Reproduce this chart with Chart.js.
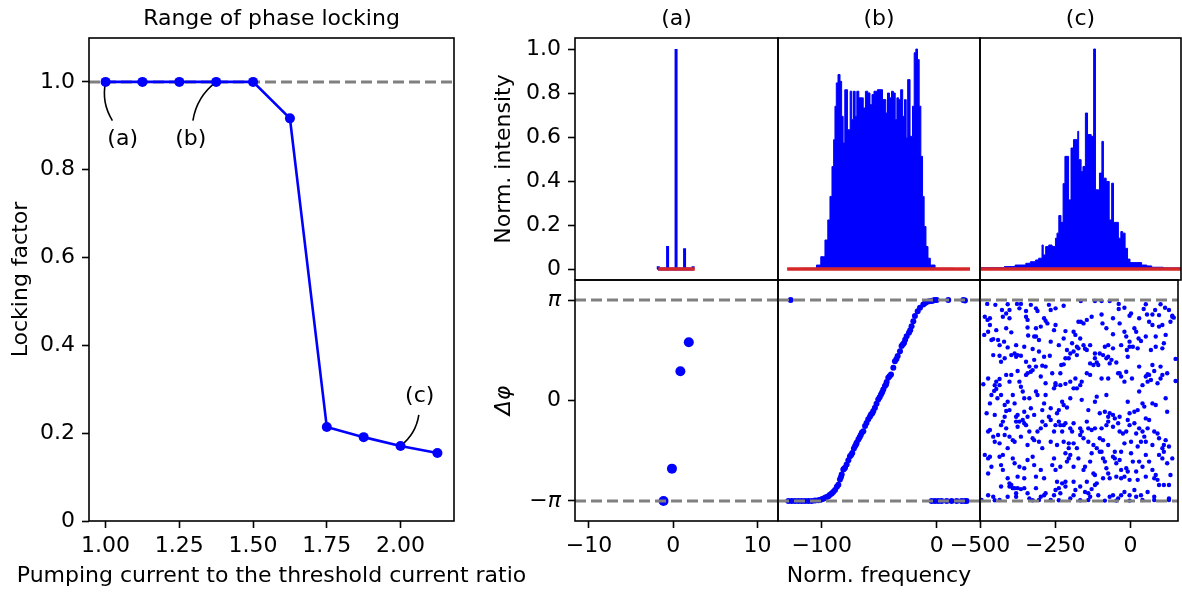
<!DOCTYPE html>
<html><head><meta charset="utf-8">
<script src="https://cdn.jsdelivr.net/npm/chart.js@4.4.0/dist/chart.umd.min.js"></script>
<style>
html,body{margin:0;padding:0;background:#fff;}
#wrap{position:relative;width:1182px;height:592px;overflow:hidden;background:#fff;}
canvas{position:absolute;left:0;top:0;}
</style></head><body><div id="wrap">
<canvas id="cL" width="1182" height="592"></canvas>
<canvas id="cTA" width="1182" height="592"></canvas>
<canvas id="cTB" width="1182" height="592"></canvas>
<canvas id="cTC" width="1182" height="592"></canvas>
<canvas id="cBA" width="1182" height="592"></canvas>
<canvas id="cBB" width="1182" height="592"></canvas>
<canvas id="cBC" width="1182" height="592"></canvas>
</div>
<script>
// ================= DATA =================
// Left panel: locking factor vs pumping ratio
const lockX = [1.0, 1.125, 1.25, 1.375, 1.5, 1.625, 1.75, 1.875, 2.0, 2.125];
const lockY = [1.0, 1.0, 1.0, 1.0, 1.0, 0.917, 0.214, 0.191, 0.171, 0.155];
const lockXTicks = [1.0, 1.25, 1.5, 1.75, 2.0];
const lockXTickLabels = ['1.00', '1.25', '1.50', '1.75', '2.00'];
const lockYTicks = [0, 0.2, 0.4, 0.6, 0.8, 1.0];
const lockYTickLabels = ['0', '0.2', '0.4', '0.6', '0.8', '1.0'];
const lockXTitle = 'Pumping current to the threshold current ratio';
const lockRef = 1.0;
const annotLabels = ['(a)', '(b)', '(c)'];
const annotPointIdx = [0, 3, 8];
const annotTextX = [1.058, 1.289, 2.065];
const annotTextY = [0.870, 0.870, 0.285];
const annotTailX = [1.023, 1.296, 2.062];
const annotTailY = [0.912, 0.912, 0.2415];

// Top row: normalized spectra
const panelTitles = ['(a)', '(b)', '(c)'];
const intTicks = [0, 0.2, 0.4, 0.6, 0.8, 1.0];
const intTickLabels = ['0', '0.2', '0.4', '0.6', '0.8', '1.0'];
const specAx = [-2.1, -1, 0, 1, 2.0];
const specAy = [0.012, 0.105, 1.0, 0.094, 0.012];
const redA = [-2.1, 2.2];
const specBx = [-130, -106, -103, -98.6, -95.7, -93.7, -91.9, -90.2, -89, -87.9, -86.7, -84.9, -83.2, -82.1, -80.6, -79.2, -76, -74.5, -73.1, -71.6, -70.2, -68.7, -66.7, -64.7, -63, -60.9, -58.9, -57.1, -55.4, -53.6, -49.3, -44.9, -43.5, -42, -40, -38.5, -36.8, -35.3, -33.9, -32.2, -30.4, -28.7, -27.2, -25.8, -24.6, -21.7, -20.3, -18.8, -17.4, -15.9, -14.5, -13, -11.6, -10.2, -8.4, -6.7, -4.3, 1.5, 29];
const specBy = [0.0, 0.003, 0.018, 0.056, 0.132, 0.223, 0.330, 0.466, 0.588, 0.740, 0.846, 0.884, 0.853, 0.694, 0.573, 0.815, 0.633, 0.808, 0.679, 0.808, 0.694, 0.808, 0.778, 0.778, 0.732, 0.808, 0.800, 0.747, 0.793, 0.808, 0.815, 0.770, 0.709, 0.800, 0.778, 0.808, 0.800, 0.679, 0.778, 0.770, 0.815, 0.694, 0.770, 0.595, 0.861, 0.603, 0.740, 0.983, 1.0, 0.952, 0.740, 0.512, 0.330, 0.193, 0.102, 0.049, 0.018, 0.003, 0.0];
const redB = [-130, 29];
const specCx = [-499, -420, -385, -350, -335, -318, -308, -297, -293, -285, -275, -264, -253, -248, -242, -235, -228, -222, -210, -202, -194, -180, -177, -169, -163, -155, -148, -136, -128, -122, -112, -109, -101, -96, -87, -77, -69, -63, -47, -39, -33, -25, -17, -9, 29, 46, 62, 100, 157];
const specCy = [0.002, 0.006, 0.011, 0.018, 0.026, 0.033, 0.041, 0.049, 0.109, 0.064, 0.102, 0.109, 0.102, 0.14, 0.163, 0.243, 0.212, 0.388, 0.512, 0.314, 0.55, 0.588, 0.626, 0.497, 0.443, 0.466, 0.709, 0.611, 0.603, 1.0, 0.36, 0.36, 0.436, 0.58, 0.413, 0.398, 0.223, 0.39, 0.212, 0.14, 0.17, 0.163, 0.094, 0.045, 0.029, 0.018, 0.014, 0.008, 0.005];
const redC = [-500, 158];

// Bottom row: phase differences
const phTicks = [-Math.PI, 0, Math.PI];
const phTickLabels = ['\u2212\u03c0', '0', '\u03c0'];
const phRef = [-Math.PI, Math.PI];
const fATicks = [-10, 0, 10], fATickLabels = ['\u221210', '0', '10'];
const fBTicks = [-100, 0], fBTickLabels = ['\u2212100', '0'];
const fCTicks = [-500, -250, 0], fCTickLabels = ['\u2212500', '\u2212250', '0'];
const phaseA = [[-1.15, -3.14], [-0.15, -2.13], [0.85, 0.916], [1.85, 1.82]];
const phaseB = [
[-129,-3.14],[-126.1,-3.14],[-123.2,-3.14],[-120.3,-3.14],[-117.4,-3.14],[-114.5,-3.14],[-111.6,-3.14],[-108.7,-3.14],[-105.8,-3.13],[-102.9,-3.12],[-101.5,-3.11],[-100,-3.09],[-98.6,-3.07],[-97.1,-3.04],[-95.7,-3.02],[-94.2,-2.99],[-92.8,-2.95],[-91.3,-2.91],[-90,-2.86],[-88.4,-2.80],[-86.8,-2.70],[-85.5,-2.63],[-84.1,-2.47],[-83.3,-2.40],[-82.6,-2.31],[-81.2,-2.16],[-80.5,-2.13],[-79.7,-2.10],[-78.3,-2.00],[-76.8,-1.87],[-75.4,-1.74],[-74.4,-1.70],[-73.4,-1.64],[-72,-1.50],[-71,-1.43],[-70,-1.37],[-69.6,-1.32],[-68.1,-1.22],[-67,-1.15],[-66,-1.08],[-65,-1.0],[-63.8,-0.96],[-62.3,-0.80],[-61,-0.70],[-59.5,-0.59],[-58,-0.50],[-57.1,-0.44],[-56,-0.40],[-55.1,-0.33],[-53.7,-0.23],[-52.3,-0.10],[-50.8,0.03],[-49.6,0.10],[-48.4,0.19],[-47.4,0.26],[-46.4,0.34],[-45,0.45],[-44,0.50],[-43.5,0.58],[-42.1,0.71],[-41,0.76],[-39.7,0.81],[-37.7,1.02],[-36.3,1.23],[-35,1.30],[-33.9,1.39],[-31.9,1.54],[-30.5,1.70],[-29.5,1.75],[-28.4,1.80],[-27.4,1.90],[-26.1,2.01],[-24.1,2.12],[-23,2.20],[-21.8,2.32],[-20.3,2.48],[-18.9,2.64],[-16.5,2.79],[-14.5,2.90],[-11.6,3.0],[-10,3.05],[-8.7,3.08],[-6.5,3.10],[-4.4,3.11],[-3,3.13],[-1.5,3.14],[0,3.14],
[-127,3.14],[10.1,3.14],[23.2,3.14],[24.6,3.13],
[-4.4,-3.14],[-1.5,-3.14],[1.4,-3.14],[4.3,-3.14],[8.7,-3.14],[13,-3.14],[17.4,-3.14],[21.7,-3.14],[24.6,-3.14],[26.1,-3.14]
];
const phaseC = [
[-476,3.02],[-449,2.99],[-427,2.83],[-408,3.01],[-402,2.83],[-377,3.02],[-364,3.02],[-369,2.88],[-347,2.80],[-331,2.99],[-314,2.88],[-309,2.80],[-271,2.99],[-265,2.83],[-249,2.88],[-222,2.96],[-165,3.11],[-118,3.11],[-96,3.11],[-69,3.11],[-39,3.02],[-39,2.86],[-20,2.90],[-3,2.65],[2,2.72],[44,2.86],[51,3.01],[82,2.83],[100,3.01],[115,2.90],[128,2.83],[139,2.65],[144,2.59],[95,2.67],[73,2.69],[55,2.69],[29,2.57],[-347,2.62],[-342,2.52],[-424,2.62],[-413,2.72],[-467,2.57],[-484,2.62],
[-486,2.05],[-475,2.52],[-467,2.36],[-473,2.15],[-456,1.92],[-440,1.89],[-446,2.20],[-413,2.26],[-396,2.13],[-402,2.57],[-342,2.28],[-340,2.03],[-320,2.00],[-314,2.26],[-298,2.31],[-287,2.57],[-282,2.49],[-276,2.41],[-249,2.36],[-254,2.20],[-216,2.17],[-189,2.15],[-183,2.05],[-167,1.94],[-156,2.41],[-145,2.52],[-129,2.62],[-173,2.46],[-165,2.46],[-96,2.69],[-93,2.41],[-80,2.26],[-58,2.57],[-58,2.07],[-36,2.41],[-20,2.15],[-14,2.00],[13,2.26],[19,2.15],[27,1.94],[-3,1.84],[8,1.68],[24,1.63],[35,1.86],[51,2.00],[73,2.36],[84,2.00],[106,2.36],[117,2.05],[111,1.79],[133,2.46],[139,2.62],[95,2.31],[62,2.46],[84,1.68],[106,1.63],[68,1.58],[-12,1.58],[-31,1.73],[-58,1.63],[-74,1.73],[-85,1.68],[-118,1.47],[-134,1.73],[-156,1.73],[-178,1.68],[-194,1.79],[-211,1.58],[-222,1.94],[-238,1.73],[-265,1.84],[-304,1.89],[-325,1.61],[-353,1.68],[-380,1.73],[-408,1.66],[-435,1.73],[-462,1.89],[-420,1.84],[-314,2.00],
[-456,1.42],[-435,1.40],[-430,1.21],[-418,1.32],[-396,1.42],[-385,1.47],[-380,1.37],[-375,1.42],[-364,1.40],[-347,1.21],[-336,1.06],[-320,1.27],[-314,1.06],[-304,1.53],[-293,1.09],[-282,1.06],[-287,1.37],[-268,1.40],[-260,0.85],[-233,0.85],[-230,1.11],[-222,1.13],[-216,1.32],[-205,1.32],[-200,1.47],[-189,1.53],[-178,1.42],[-173,1.63],[-151,1.62],[-145,1.58],[-134,1.16],[-123,1.11],[-118,1.32],[-112,1.19],[-107,1.11],[-102,1.47],[-91,1.42],[-80,1.32],[-74,1.37],[-69,1.16],[-63,1.27],[-47,1.19],[-36,0.85],[-14,0.90],[-9,1.37],[-3,1.68],[29,1.06],[51,0.75],[57,0.82],[62,0.80],[68,0.64],[73,1.11],[79,0.92],[100,1.06],[106,0.80],[122,0.85],[150,1.30],[-347,0.80],[-342,0.85],[-331,0.90],[-325,0.95],[-375,0.92],[-396,0.80],[-413,0.80],[-435,0.67],[-446,0.59],[-451,0.48],[-473,0.69],[-489,0.51],[-402,0.59],[-369,0.59],[-298,0.75],[-282,0.54],[-249,0.54],[-233,0.48],[-216,0.52],[-200,0.59],[-183,0.69],[-162,0.59],[-145,0.85],[-134,0.80],[-96,0.69],[-74,0.69],[-41,0.85],[-31,0.75],[-20,0.59],[5,0.69],[40,0.48],[57,0.59],[90,0.54],[100,0.69],[150,0.61],
[-467,-0.09],[-462,0.17],[-453,0.30],[-446,0.36],[-442,0.07],[-435,0.48],[-430,0.17],[-418,-0.14],[-413,-0.33],[-408,-0.04],[-402,-0.30],[-391,0.17],[-385,-0.09],[-364,0.43],[-358,0.28],[-353,0.07],[-336,0.07],[-331,-0.24],[-314,0.28],[-309,0.17],[-287,-0.09],[-282,0.17],[-265,-0.24],[-254,0.38],[-249,0.48],[-244,-0.40],[-238,-0.30],[-227,-0.04],[-222,-0.14],[-211,-0.22],[-200,0.07],[-189,0.38],[-178,0.38],[-167,0.48],[-162,0.02],[-140,-0.30],[-118,-0.04],[-112,0.12],[-102,-0.40],[-85,-0.35],[-80,0.17],[-74,-0.51],[-69,-0.40],[-58,-0.45],[-52,-0.56],[-36,-0.51],[-9,-0.04],[-3,-0.40],[13,-0.35],[24,-0.30],[29,0.28],[40,-0.09],[46,-0.19],[51,-0.56],[73,-0.09],[84,-0.14],[117,0.07],[122,-0.35],[-478,-0.40],[-451,-0.45],[-418,-0.51],[-380,-0.51],[-375,-0.45],[-353,-0.35],[-342,-0.51],[-320,-0.45],[-293,-0.30],[-271,-0.51],
[-473,-0.97],[-467,-0.92],[-456,-1.13],[-440,-1.08],[-451,-1.29],[-435,-1.34],[-430,-0.77],[-424,-0.66],[-413,-0.87],[-402,-1.13],[-391,-1.24],[-385,-1.29],[-380,-0.66],[-375,-0.82],[-369,-0.66],[-358,-0.61],[-353,-0.71],[-347,-0.77],[-336,-0.97],[-325,-1.18],[-320,-1.24],[-309,-0.97],[-304,-1.29],[-298,-0.87],[-293,-0.66],[-282,-0.77],[-265,-0.61],[-254,-0.97],[-249,-0.77],[-238,-0.66],[-233,-0.77],[-227,-0.97],[-222,-0.77],[-216,-0.71],[-200,-0.87],[-194,-0.97],[-189,-0.71],[-167,-0.87],[-162,-0.97],[-156,-1.18],[-145,-0.66],[-140,-0.87],[-129,-0.92],[-118,-0.87],[-102,-1.18],[-96,-0.87],[-80,-0.77],[-74,-0.66],[-58,-0.82],[-41,-0.71],[-36,-0.97],[-25,-1.03],[-14,-0.97],[-9,-0.61],[-3,-0.77],[13,-0.71],[19,-1.03],[29,-0.87],[40,-0.97],[46,-1.13],[57,-0.87],[62,-0.61],[79,-0.97],[90,-1.03],[95,-1.18],[111,-1.39],[117,-1.24],[128,-1.44],[106,-1.49],[73,-1.39],[51,-1.29],[35,-1.29],[24,-1.44],[2,-1.29],[-20,-1.34],[-31,-1.60],[-52,-1.60],[-74,-1.39],[-91,-1.24],[-112,-1.49],[-123,-1.39],[-140,-1.29],[-167,-1.08],[-189,-1.34],[-205,-1.34],[-222,-1.29],[-244,-1.39],[-265,-1.29],[-293,-1.49],[-342,-1.39],[-364,-1.13],[-408,-1.49],[-418,-1.08],
[-484,-1.70],[-467,-1.76],[-462,-2.07],[-473,-2.28],[-435,-1.76],[-424,-1.70],[-430,-2.02],[-391,-1.81],[-385,-1.96],[-369,-2.07],[-353,-2.12],[-342,-1.86],[-325,-1.76],[-320,-2.02],[-298,-2.17],[-260,-2.02],[-254,-1.81],[-249,-2.17],[-233,-2.07],[-216,-1.65],[-205,-1.49],[-200,-1.70],[-205,-1.81],[-211,-1.91],[-189,-2.07],[-178,-1.49],[-173,-1.81],[-156,-2.17],[-151,-2.07],[-129,-1.65],[-134,-1.91],[-123,-2.28],[-118,-2.33],[-102,-1.60],[-96,-1.60],[-91,-1.81],[-85,-1.91],[-80,-2.12],[-74,-2.28],[-58,-1.76],[-52,-1.81],[-47,-1.96],[-36,-1.86],[-31,-2.17],[-14,-2.12],[-9,-2.22],[2,-1.65],[8,-1.91],[19,-2.22],[29,-1.91],[40,-2.07],[51,-1.70],[62,-1.91],[73,-2.17],[79,-2.43],[84,-2.33],[95,-1.70],[106,-1.81],[111,-1.60],[122,-1.96],[139,-1.81],[133,-2.33],[90,-2.48],[51,-2.38],[24,-2.48],[-3,-2.48],[-20,-2.38],[-31,-2.43],[-47,-2.38],[-69,-2.43],[-91,-2.43],[-112,-2.59],[-145,-2.54],[-189,-2.54],[-216,-2.54],[-244,-2.54],[-287,-2.43],[-314,-2.38],[-353,-2.43],[-375,-2.38],[-408,-2.43],[-402,-2.59],[-396,-2.64],[-424,-2.17],[-473,-1.81],
[-473,-2.96],[-456,-3.01],[-430,-2.69],[-402,-2.69],[-391,-2.74],[-385,-2.74],[-380,-2.90],[-375,-2.74],[-364,-2.77],[-353,-2.74],[-342,-2.90],[-336,-3.06],[-314,-2.74],[-298,-3.01],[-287,-2.96],[-282,-2.90],[-254,-2.96],[-249,-2.80],[-238,-2.74],[-233,-2.90],[-227,-2.59],[-216,-2.69],[-189,-2.96],[-183,-2.80],[-167,-2.69],[-151,-2.86],[-140,-2.90],[-134,-3.01],[-129,-2.77],[-118,-2.64],[-107,-2.96],[-69,-3.01],[-58,-2.96],[-41,-3.06],[-31,-2.96],[-20,-2.86],[-3,-2.96],[13,-2.80],[19,-3.01],[35,-2.96],[57,-2.86],[79,-3.01],[95,-2.64],[111,-2.64],[128,-2.64],[128,-3.06],[-495,-3.11],[-451,-3.12],[-435,-3.11],[-408,-3.01],[-380,-3.01],[-325,-3.12],[-304,-3.11],[-265,-3.11],[-238,-3.12],[-200,-3.06],[-167,-3.12],[-140,-3.11],[-85,-3.13],[-47,-3.13],[-3,-3.13],[40,-3.11],[79,-3.11],[128,-3.11]
];

// ================= STYLE / LAYOUT =================
const FONT = "'DejaVu Sans', sans-serif";
const TICK = 22, LABEL = 22;
const CW = 1182, CH = 592;
const BLUE = '#0000ff', RED = '#d62728', GREY = '#808080';
const SPINE = 1.6;
Chart.defaults.font.family = FONT;
Chart.defaults.color = '#000';
Chart.defaults.animation = false;
Chart.defaults.events = [];
Chart.defaults.plugins.legend.display = false;
Chart.defaults.plugins.tooltip.enabled = false;

const TITLE_PAD = {top: 5, bottom: 6};
const TITLE_H = LABEL * 1.2 + TITLE_PAD.top + TITLE_PAD.bottom;

const framePlugin = {
  id: 'frame',
  afterDraw(chart) {
    const a = chart.chartArea, ctx = chart.ctx;
    ctx.save();
    ctx.strokeStyle = '#000'; ctx.lineWidth = SPINE;
    ctx.strokeRect(a.left, a.top, a.right - a.left, a.bottom - a.top);
    ctx.restore();
  }
};

function axis(o) {
  const s = {
    type: 'linear', min: o.min, max: o.max, display: !!o.show,
    border: {display: false},
    grid: {display: true, drawOnChartArea: false, drawTicks: true, tickLength: 7, tickWidth: SPINE, tickColor: '#000', color: '#000'},
    ticks: {autoSkip: false, maxRotation: 0, minRotation: 0, padding: o.tpad ?? 6,
            font: o.tfont || {size: TICK}, color: '#000',
            callback: (v, i) => (o.labels ? o.labels[i] : '')}
  };
  if (o.ticks) s.afterBuildTicks = sc => { sc.ticks = o.ticks.map(v => ({value: v})); };
  if (o.size !== undefined) s.afterFit = sc => { if (o.vertical) sc.width = o.size; else sc.height = o.size; };
  if (o.title) s.title = {display: true, text: o.title, font: {size: LABEL, style: o.titleStyle || 'normal'}, color: '#000', padding: o.titlePad};
  return s;
}

function make(id, area, xOpt, yOpt, datasets, title, extraPlugins) {
  const [l, t, r, b] = area;
  const pad = {
    left: l - (yOpt.show ? yOpt.size : 0),
    right: CW - r,
    top: t - (title ? TITLE_H : 0),
    bottom: CH - b - (xOpt.show ? xOpt.size : 0)
  };
  return new Chart(document.getElementById(id), {
    type: 'scatter',
    data: {datasets},
    options: {
      responsive: false, maintainAspectRatio: false, devicePixelRatio: 1,
      layout: {padding: pad},
      scales: {x: axis(xOpt), y: axis(Object.assign({vertical: true}, yOpt))},
      plugins: {
        title: title ? {display: true, text: title, fullSize: false, font: {size: LABEL, weight: 'normal'}, color: '#000', padding: TITLE_PAD} : {display: false}
      }
    },
    plugins: [framePlugin].concat(extraPlugins || [])
  });
}

const pts = (xs, ys) => xs.map((x, i) => ({x, y: ys[i]}));
const pairs = arr => arr.map(p => ({x: p[0], y: p[1]}));
const hline = (x0, x1, y, color, w, dash, order) => ({
  data: [{x: x0, y}, {x: x1, y}], showLine: true, borderColor: color, borderWidth: w,
  borderDash: dash || [], pointRadius: 0, order, borderCapStyle: 'butt'
});

// ---------- Left panel ----------
const LX = {min: 0.94375, max: 2.18125};
const annotPlugin = {
  id: 'annot',
  beforeDatasetsDraw(chart) {
    const xs = chart.scales.x, ys = chart.scales.y, ctx = chart.ctx;
    ctx.save();
    ctx.strokeStyle = '#000'; ctx.lineWidth = SPINE; ctx.fillStyle = '#000';
    ctx.font = `${TICK}px ${FONT}`; ctx.textAlign = 'center'; ctx.textBaseline = 'middle';
    annotLabels.forEach((lab, i) => {
      const sx = xs.getPixelForValue(annotTailX[i]), sy = ys.getPixelForValue(annotTailY[i]);
      const k = annotPointIdx[i];
      const ex = xs.getPixelForValue(lockX[k]), ey = ys.getPixelForValue(lockY[k]);
      const dx = ex - sx, dy = ey - sy, f = 0.2;
      const cx = (sx + ex) / 2 + f * dy, cy = (sy + ey) / 2 - f * dx;
      ctx.beginPath(); ctx.moveTo(sx, sy); ctx.quadraticCurveTo(cx, cy, ex, ey); ctx.stroke();
      ctx.fillText(lab, xs.getPixelForValue(annotTextX[i]), ys.getPixelForValue(annotTextY[i]));
    });
    ctx.restore();
  }
};
// x-axis title drawn without width compression (it is wider than the plot)
const xTitlePlugin = {
  id: 'xtitle',
  afterDraw(chart) {
    const a = chart.chartArea, ctx = chart.ctx;
    ctx.save();
    ctx.fillStyle = '#000'; ctx.font = `${LABEL}px ${FONT}`;
    ctx.textAlign = 'center'; ctx.textBaseline = 'middle';
    ctx.fillText(lockXTitle, (a.left + a.right) / 2, chart.height - 3 - LABEL * 0.6);
    ctx.restore();
  }
};
make('cL', [89, 38, 454, 521],
  {show: true, min: LX.min, max: LX.max, ticks: lockXTicks, labels: lockXTickLabels, size: 71, tpad: 5},
  {show: true, min: 0, max: 1.1, ticks: lockYTicks, labels: lockYTickLabels, size: 89, tpad: 7,
   title: 'Locking factor', titlePad: {top: 8, bottom: 0}},
  [
    hline(LX.min, LX.max, lockRef, GREY, 3, [11, 5], 3),
    {data: pts(lockX, lockY), showLine: true, borderColor: BLUE, backgroundColor: BLUE, borderWidth: 2.6,
     pointRadius: 5, pointBorderWidth: 0, pointBackgroundColor: BLUE, order: 1}
  ],
  'Range of phase locking', [annotPlugin, xTitlePlugin]);

// ---------- Top row ----------
const TA = {min: -11.9, max: 12.0}, TB = {min: -138, max: 37.7}, TC = {min: -500, max: 158};
const IY = {min: -0.05, max: 1.05};
const stems = (xs, ys) => xs.flatMap((x, i) => [{x, y: 0}, {x, y: ys[i]}, {x, y: 0}]);
make('cTA', [575, 38, 778, 280],
  {show: false, min: TA.min, max: TA.max},
  {show: true, min: IY.min, max: IY.max, ticks: intTicks, labels: intTickLabels, size: 95, tpad: 7,
   title: 'Norm. intensity', titlePad: {top: 11, bottom: 0}},
  [
    {data: stems(specAx, specAy), showLine: true, borderColor: BLUE, borderWidth: 3, pointRadius: 0, order: 2, borderJoinStyle: 'bevel'},
    hline(redA[0], redA[1], 0, RED, 3.5, [], 0)
  ], panelTitles[0]);
make('cTB', [778, 38, 980, 280],
  {show: false, min: TB.min, max: TB.max},
  {show: false, min: IY.min, max: IY.max},
  [
    {data: pts(specBx, specBy), showLine: true, stepped: 'middle', fill: 'origin', borderColor: BLUE,
     backgroundColor: BLUE, borderWidth: 1, pointRadius: 0, order: 2},
    hline(redB[0], redB[1], 0, RED, 3.5, [], 0)
  ], panelTitles[1]);
make('cTC', [980, 38, 1181, 280],
  {show: false, min: TC.min, max: TC.max},
  {show: false, min: IY.min, max: IY.max},
  [
    {data: pts(specCx, specCy), showLine: true, stepped: 'after', fill: 'origin', borderColor: BLUE,
     backgroundColor: BLUE, borderWidth: 1, pointRadius: 0, order: 2},
    hline(redC[0], redC[1], 0, RED, 3.5, [], 0)
  ], panelTitles[2]);

// ---------- Bottom row ----------
const BA = {min: -11.66, max: 12.44}, BB = {min: -138, max: 37.7}, BC = {min: -500, max: 158};
const PY = {min: -3.767, max: 3.767};
const phFont = ctx => ({size: TICK, style: (ctx.tick && ctx.tick.value !== 0) ? 'italic' : 'normal'});
const dashes = (X) => [hline(X.min, X.max, phRef[0], GREY, 3, [11, 5], 0), hline(X.min, X.max, phRef[1], GREY, 3, [11, 5], 0)];
make('cBA', [575, 280, 778, 521],
  {show: true, min: BA.min, max: BA.max, ticks: fATicks, labels: fATickLabels, size: 71, tpad: 5},
  {show: true, min: PY.min, max: PY.max, ticks: phTicks, labels: phTickLabels, size: 95, tpad: 7, tfont: phFont,
   title: '\u0394\u03c6', titleStyle: 'italic', titlePad: {top: 11, bottom: 0}},
  [{data: pairs(phaseA), pointRadius: 5, pointBorderWidth: 0, pointBackgroundColor: BLUE, order: 2}].concat(dashes(BA)));
make('cBB', [778, 280, 980, 521],
  {show: true, min: BB.min, max: BB.max, ticks: fBTicks, labels: fBTickLabels, size: 71, tpad: 5,
   title: 'Norm. frequency', titlePad: {top: 0, bottom: 3}},
  {show: false, min: PY.min, max: PY.max},
  [{data: pairs(phaseB), pointRadius: 3, pointBorderWidth: 0, pointBackgroundColor: BLUE, order: 2}].concat(dashes(BB)));
make('cBC', [980, 280, 1181, 521],
  {show: true, min: BC.min, max: BC.max, ticks: fCTicks, labels: fCTickLabels, size: 71, tpad: 5},
  {show: false, min: PY.min, max: PY.max},
  [{data: pairs(phaseC), pointRadius: 2.2, pointBorderWidth: 0, pointBackgroundColor: BLUE, order: 2}].concat(dashes(BC)));
</script>
</body></html>
